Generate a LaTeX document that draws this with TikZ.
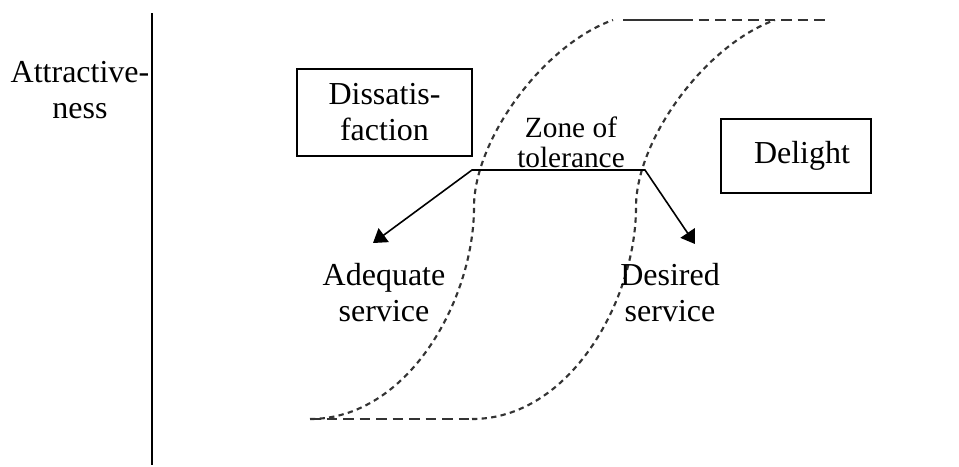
\documentclass[tikz,border=0pt]{standalone}
\usepackage{fontspec}
\setmainfont{Liberation Serif}
\usetikzlibrary{arrows.meta}
\newlength{\unitpx}
\setlength{\unitpx}{0.375pt}
\colorlet{curveGray}{black!80}
\colorlet{frameBlack}{black}
\tikzset{
  areaBox/.style={draw=frameBlack,line width=0.75pt,inner sep=0pt,align=center,font=\fontsize{12}{13.5}\selectfont},
  plainText/.style={inner sep=0pt,align=center,font=\fontsize{12}{13.5}\selectfont},
  curveDash/.style={curveGray,line width=0.8pt,dash pattern=on 2pt off 1.6pt},
  flatDash/.style={curveGray,line width=0.8pt,dash pattern=on 4pt off 2.2pt},
  pointer/.style={line width=0.6pt,line join=miter,{Triangle[length=5pt,width=6.4pt]}-{Triangle[length=5pt,width=6.4pt]}}
}
\NewDocumentCommand\DrawSCurve{m}%
{%
\draw[curveDash,shift={(#1,0)}] (310,419) .. controls (408,419) and (474,300) .. (474,207) .. controls (474,140) and (543,45) .. (613,20);%
}

\begin{document}
\begin{tikzpicture}[x=\unitpx,y=-\unitpx]
\useasboundingbox (0,0) rectangle (959,466);
% axis
\coordinate (axisTop) at (152,13);
\coordinate (axisBot) at (152,465);
\draw[frameBlack,line width=0.75pt] (axisTop) -- (axisBot);
\node[plainText] (attract) at (80,90.5) {Attractive-\\ness};
% boxes
\node[areaBox,minimum width=175\unitpx,minimum height=87\unitpx] (dissat) at (384.5,112.5) {Dissatis-\\faction};
\node[areaBox,minimum width=150\unitpx,minimum height=74\unitpx] (delight) at (796,156) {\hspace*{12\unitpx}Delight};
% curves
\DrawSCurve{0}
\DrawSCurve{162}
\draw[flatDash] (310,419) -- (472,419);
\draw[curveGray,line width=0.8pt] (623,20) -- (682,20);
\draw[flatDash] (682,20) -- (827,20);
% zone of tolerance
\node[plainText,font=\fontsize{11}{11.25}\selectfont] (zone) at (571,142) {Zone of\\tolerance};
\node[plainText] (adequate) at (384,293) {Adequate\\service};
\node[plainText] (desired) at (670,292.5) {Desired\\service};
\coordinate (zoneL) at (472,170);
\coordinate (zoneR) at (645,170);
\coordinate (tipL) at (373,243);
\coordinate (tipR) at (695,244);
\draw[pointer] (tipL) -- (zoneL) -- (zoneR) -- (tipR);
\end{tikzpicture}
\end{document}
